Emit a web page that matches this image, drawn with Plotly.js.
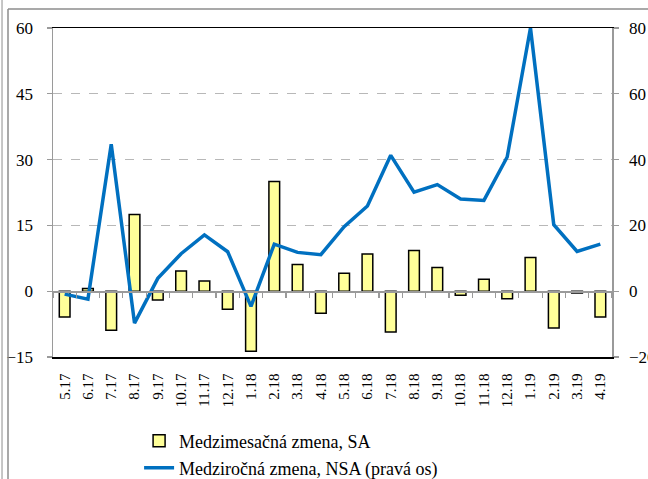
<!DOCTYPE html>
<html><head><meta charset="utf-8">
<script src="https://cdn.plot.ly/plotly-3.0.1.min.js"></script>
<style>html,body{margin:0;padding:0;background:#fff;overflow:hidden}#chart{width:648px;height:479px}</style>
</head><body><div id="chart"></div>
<script>
const months = ["5.17","6.17","7.17","8.17","9.17","10.17","11.17","12.17","1.18","2.18","3.18","4.18",
                "5.18","6.18","7.18","8.18","9.18","10.18","11.18","12.18","1.19","2.19","3.19","4.19"];
const momSA = [-5.9, 0.6, -8.9, 17.5, -2.0, 4.6, 2.3, -4.1, -13.7, 25.0, 6.1, -5.0,
               4.1, 8.5, -9.3, 9.3, 5.4, -0.9, 2.7, -1.7, 7.7, -8.4, -0.4, -5.9];
const yoyNSA = [-0.9, -2.4, 44.7, -9.7, 3.9, 11.4, 17.1, 12.0, -4.6, 14.3, 11.8, 11.1,
                19.6, 25.9, 41.3, 30.1, 32.4, 28.0, 27.6, 40.8, 80.0, 20.2, 12.1, 14.3];
const leftTicks = [-15, 0, 15, 30, 45, 60];
const rightTicks = [-20, 0, 20, 40, 60, 80];
const seriesNames = ["Medzimesačná zmena, SA", "Medziročná zmena, NSA (pravá os)"];
const titleText = "Graf 5  Priemyselná produkcia v SR (%, stále ceny)";

const serif = "'Liberation Serif', 'Times New Roman', serif";
const axisGray = "#9a9a9a";

const traces = [
  {type: "bar", x: months, y: momSA, name: seriesNames[0], xaxis: "x", yaxis: "y", legend: "legend",
   width: 0.46, marker: {color: "#FFFF99", line: {color: "#000000", width: 1.5}}, hoverinfo: "x+y"},
  {type: "scatter", mode: "lines", x: months, y: yoyNSA, name: seriesNames[1], xaxis: "x", yaxis: "y2", legend: "legend2",
   line: {color: "#0070C0", width: 3.5}, hoverinfo: "x+y"},
  {type: "scatter", mode: "lines", x: months, y: months.map(() => null), xaxis: "x2", yaxis: "y",
   showlegend: false, hoverinfo: "skip"}
];

const legendBase = {orientation: "v", x: 0.154, xanchor: "left", yref: "container", yanchor: "top",
                    font: {family: serif, size: 18, color: "#000"}, bgcolor: "rgba(0,0,0,0)"};

const layout = {
  width: 648, height: 479,
  margin: {l: 53, r: 36, t: 28, b: 122, autoexpand: false},
  paper_bgcolor: "#ffffff", plot_bgcolor: "#ffffff",
  showlegend: true,
  xaxis: {type: "category", range: [-0.5, 23.5], showline: true, linecolor: "#000000", linewidth: 1.5,
          mirror: true, ticks: "", tickangle: -90, showgrid: false, zeroline: false, automargin: false,
          tickfont: {family: serif, size: 15, color: "#000"}, ticklabelstandoff: 9},
  xaxis2: {type: "category", overlaying: "x", anchor: "free", position: 0.2, range: [-0.5, 23.5],
           showline: true, linecolor: axisGray, linewidth: 1.5, ticks: "outside", tickson: "boundaries",
           ticklen: 5, tickcolor: axisGray, tickwidth: 1.2, showticklabels: false, showgrid: false, zeroline: false},
  yaxis: {range: [-15, 60], tickvals: leftTicks, showgrid: true, gridcolor: "#b8b8b8", griddash: "dash",
          gridwidth: 1.2, zeroline: false, showline: true, linecolor: axisGray, linewidth: 1.5,
          ticks: "outside", ticklen: 5, tickcolor: axisGray, tickwidth: 1.2, automargin: false,
          tickfont: {family: serif, size: 17, color: "#000"}, ticklabelstandoff: 10},
  yaxis2: {range: [-20, 80], tickvals: rightTicks, overlaying: "y", side: "right", showgrid: false,
           zeroline: false, showline: true, linecolor: axisGray, linewidth: 1.5, automargin: false,
           ticks: "outside", ticklen: 5, tickcolor: axisGray, tickwidth: 1.2,
           tickfont: {family: serif, size: 17, color: "#000"}, ticklabelstandoff: 7},
  legend: Object.assign({}, legendBase, {y: 0.1177}),
  legend2: Object.assign({}, legendBase, {y: 0.0617}),
  annotations: [{text: titleText, xref: "paper", yref: "paper", x: 0.9714, y: 1.0745, xanchor: "right",
                 yanchor: "bottom", showarrow: false, font: {family: "'Open Sans', sans-serif", size: 24, color: "#0070C0"}}],
  shapes: [
    {type: "line", xref: "paper", yref: "paper", x0: -0.0805, x1: -0.0805, y0: 1.0578, y1: -0.45,
     line: {color: "#8c8c8c", width: 1.5}},
    {type: "line", xref: "paper", yref: "paper", x0: -0.0805, x1: 1.12, y0: 1.0578, y1: 1.0578,
     line: {color: "#8c8c8c", width: 1.5}},
    {type: "line", xref: "paper", yref: "paper", x0: -0.0912, x1: -0.0912, y0: 1.1, y1: -0.45,
     line: {color: "#a0a0a0", width: 1.2}}
  ]
};

Plotly.newPlot("chart", traces, layout, {staticPlot: true, displayModeBar: false});
</script></body></html>
